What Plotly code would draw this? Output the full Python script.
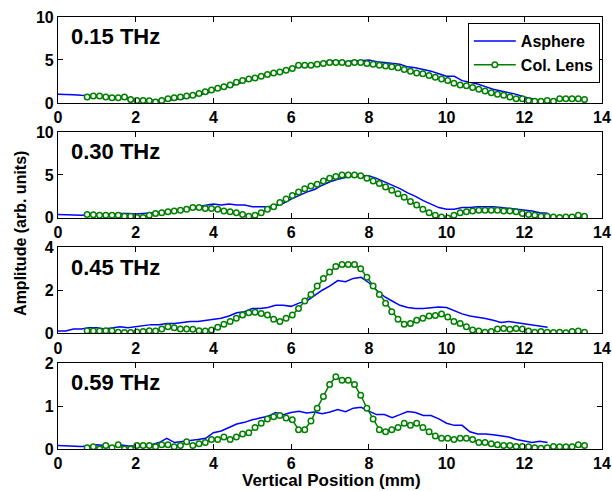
import numpy as np
import plotly.graph_objects as go

# ---- data ----
labels = ["0.15 THz", "0.30 THz", "0.45 THz", "0.59 THz"]
y_ranges = [[0, 10], [0, 10], [0, 4], [0, 2]]
y_ticks = [[0, 5, 10], [0, 5, 10], [0, 2, 4], [0, 1, 2]]
x_ticks = [0, 2, 4, 6, 8, 10, 12, 14]

# Asphere sampling positions (mm)
x_asph = np.round(np.arange(64) * 0.2, 2)
# Col. Lens sampling positions (mm)
x_lens = np.round(0.75 + np.arange(81) * 0.16, 2)

asph_015 = [1.0, 1.0, 0.95, 0.9, 0.9, 0.85, 0.8, 0.75, 0.7, 0.5,
            0.4, 0.35, 0.3, 0.3, 0.3, 0.4, 0.5, 0.7, 0.9, 1.1,
            1.4, 1.7, 1.9, 2.2, 2.5, 2.8, 3.1, 3.3, 3.6, 3.8,
            4.0, 4.2, 4.4, 4.5, 4.7, 4.9, 4.9, 4.8, 4.9, 4.9,
            5.0, 4.8, 4.7, 4.6, 4.5, 4.2, 4.1, 3.9, 3.7, 3.4,
            3.1, 3.1, 2.6, 2.4, 2.2, 1.9, 1.6, 1.4, 1.2, 1.0,
            0.7, 0.5, 0.3, 0.1]
lens_015 = [0.7, 0.8, 0.8, 0.7, 0.6, 0.6, 0.7, 0.4, 0.3, 0.3,
            0.25, 0.1, 0.3, 0.5, 0.6, 0.7, 0.8, 0.9, 1.1, 1.3,
            1.5, 1.7, 1.9, 2.1, 2.4, 2.6, 2.8, 2.9, 3.1, 3.3,
            3.5, 3.6, 3.8, 4.0, 4.4, 4.4, 4.4, 4.5, 4.6, 4.7,
            4.7, 4.7, 4.6, 4.7, 4.7, 4.6, 4.5, 4.4, 4.3, 4.2,
            4.1, 3.9, 3.7, 3.5, 3.4, 3.2, 3.0, 2.8, 2.6, 2.3,
            2.1, 2.0, 1.8, 1.6, 1.4, 1.2, 1.0, 0.9, 0.7, 0.5,
            0.5, 0.3, 0.2, 0.2, 0.3, 0.2, 0.5, 0.5, 0.5, 0.5, 0.4]

asph_030 = [0.4, 0.35, 0.3, 0.3, 0.35, 0.4, 0.45, 0.5, 0.5, 0.5,
            0.45, 0.5, 0.55, 0.6, 0.7, 0.85, 1.0, 1.2, 1.3, 1.5,
            1.6, 1.5, 1.6, 1.5, 1.5, 1.3, 1.3, 1.3, 1.4, 1.7,
            2.2, 2.6, 3.0, 3.3, 3.8, 4.2, 4.5, 4.7, 4.9, 4.9,
            4.9, 4.6, 4.2, 3.8, 3.4, 2.9, 2.5, 2.0, 1.6, 1.2,
            1.0, 1.0, 1.2, 1.2, 1.3, 1.3, 1.3, 1.2, 1.1, 1.0,
            0.9, 0.8, 0.6, 0.55]
lens_030 = [0.4, 0.35, 0.3, 0.3, 0.3, 0.3, 0.2, 0.2, 0.05, 0.05,
            0.3, 0.5, 0.6, 0.7, 0.8, 0.9, 1.0, 1.2, 1.2, 1.1,
            1.1, 1.0, 0.8, 0.7, 0.6, 0.4, 0.2, 0.3, 0.6, 1.0,
            1.3, 1.8, 2.2, 2.6, 3.0, 3.4, 3.7, 3.9, 4.3, 4.6,
            4.8, 5.0, 5.0, 5.0, 4.9, 4.6, 4.3, 4.0, 3.6, 3.2,
            2.8, 2.4, 1.9, 1.5, 1.0, 0.6, 0.3, 0.1, 0.0, 0.3,
            0.6, 0.7, 0.8, 0.9, 0.9, 0.9, 0.9, 0.8, 0.8, 0.7,
            0.5, 0.4, 0.3, 0.2, 0.2, 0.1, 0.05, 0.1, 0.1, 0.3, 0.2]

asph_045 = [0.1, 0.1, 0.2, 0.2, 0.25, 0.25, 0.2, 0.25, 0.3, 0.25,
            0.3, 0.35, 0.4, 0.4, 0.45, 0.45, 0.5, 0.55, 0.55, 0.6,
            0.65, 0.7, 0.8, 0.95, 1.0, 1.15, 1.15, 1.2, 1.3, 1.3,
            1.25, 1.4, 1.5, 1.75, 2.0, 2.2, 2.45, 2.4, 2.55, 2.6,
            2.35, 2.0, 1.7, 1.5, 1.3, 1.2, 1.15, 1.15, 1.2, 1.22,
            1.2, 1.05, 0.9, 0.8, 0.75, 0.68, 0.6, 0.5, 0.55, 0.5,
            0.42, 0.38, 0.35, 0.28]
lens_045 = [0.12, 0.1, 0.1, 0.12, 0.12, 0.05, 0.03, 0.03, 0.06, 0.08,
            0.12, 0.1, 0.2, 0.3, 0.25, 0.2, 0.2, 0.18, 0.12, 0.1,
            0.15, 0.28, 0.42, 0.55, 0.7, 0.85, 0.95, 0.98, 0.92, 0.85,
            0.65, 0.55, 0.7, 0.85, 1.15, 1.5, 1.8, 2.2, 2.55, 2.85,
            3.1, 3.2, 3.2, 3.2, 3.0, 2.6, 2.2, 1.8, 1.4, 1.0,
            0.65, 0.42, 0.45, 0.6, 0.7, 0.8, 0.82, 0.9, 0.75, 0.55,
            0.45, 0.3, 0.15, 0.1, 0.05, 0.08, 0.2, 0.22, 0.18, 0.22,
            0.2, 0.1, 0.05, 0.08, 0.05, 0.03, 0.05, 0.02, 0.08, 0.1, 0.05]

asph_059 = [0.08, 0.07, 0.06, 0.06, 0.07, 0.1, 0.08, 0.06, 0.1, 0.07,
            0.07, 0.08, 0.1, 0.15, 0.25, 0.15, 0.18, 0.2, 0.22, 0.25,
            0.38, 0.42, 0.5, 0.58, 0.62, 0.68, 0.72, 0.76, 0.85, 0.8,
            0.85, 0.88, 0.84, 0.86, 0.82, 0.86, 0.92, 0.87, 0.95, 0.97,
            0.88, 0.8, 0.8, 0.73, 0.8, 0.87, 0.85, 0.78, 0.78, 0.7,
            0.6, 0.55, 0.55, 0.4, 0.35, 0.35, 0.33, 0.3, 0.28, 0.22,
            0.18, 0.15, 0.18, 0.15]
lens_059 = [0.03, 0.05, 0.0, 0.08, 0.03, 0.1, 0.0, 0.0, 0.08, 0.08,
            0.08, 0.05, 0.1, 0.1, 0.05, 0.08, 0.17, 0.08, 0.12, 0.15,
            0.22, 0.22, 0.28, 0.22, 0.28, 0.35, 0.38, 0.5, 0.6, 0.7,
            0.75, 0.78, 0.72, 0.68, 0.45, 0.45, 0.65, 0.95, 1.22, 1.5,
            1.68, 1.6, 1.6, 1.5, 1.25, 0.95, 0.7, 0.45, 0.4, 0.45,
            0.5, 0.6, 0.55, 0.6, 0.5, 0.4, 0.3, 0.25, 0.25, 0.22,
            0.25, 0.25, 0.22, 0.15, 0.15, 0.12, 0.1, 0.08, 0.08, 0.06,
            0.06, 0.05, 0.03, 0.02, 0.03, 0.06, 0.05, 0.05, 0.05, 0.1, 0.08]

asph = [asph_015, asph_030, asph_045, asph_059]
lens = [lens_015, lens_030, lens_045, lens_059]

# ---- figure ----
FONT = "Liberation Sans, Arial, Helvetica, sans-serif"
domains = [[0.801, 1.0], [0.535, 0.734], [0.268, 0.467], [0.0, 0.199]]

fig = go.Figure()
for i in range(4):
    xa = "x" if i == 0 else f"x{i+1}"
    ya = "y" if i == 0 else f"y{i+1}"
    fig.add_trace(go.Scatter(
        x=x_asph, y=asph[i], mode="lines", name="Asphere",
        line=dict(color="#0000ff", width=1.5),
        xaxis=xa, yaxis=ya, showlegend=(i == 0), cliponaxis=True))
    fig.add_trace(go.Scatter(
        x=x_lens, y=lens[i], mode="lines+markers", name="Col. Lens",
        line=dict(color="#008000", width=1.5),
        marker=dict(symbol="circle", size=5.5, color="white",
                    line=dict(color="#008000", width=1.5)),
        xaxis=xa, yaxis=ya, showlegend=(i == 0), cliponaxis=True))

axis_common = dict(showline=True, linecolor="black", linewidth=1.2,
                   mirror="ticks", ticks="inside", ticklen=5, tickwidth=1.2,
                   tickcolor="black", showgrid=False, zeroline=False,
                   automargin=False,
                   tickfont=dict(family=FONT, size=16, color="black", weight="bold"))

layout = dict(
    width=612, height=491,
    margin=dict(l=58, r=10, t=17, b=42, autoexpand=False),
    paper_bgcolor="white", plot_bgcolor="white",
    font=dict(family=FONT, color="black"),
    legend=dict(x=0.996, y=0.986, xanchor="right", yanchor="top",
                xref="paper", yref="paper",
                bordercolor="black", borderwidth=1, bgcolor="white",
                font=dict(family=FONT, size=16, color="black", weight="bold"),
                tracegroupgap=0, itemwidth=42),
)
annotations = []
for i in range(4):
    xk = "xaxis" if i == 0 else f"xaxis{i+1}"
    yk = "yaxis" if i == 0 else f"yaxis{i+1}"
    ya = "y" if i == 0 else f"y{i+1}"
    layout[xk] = dict(axis_common, domain=[0, 1], range=[0, 14],
                      tickvals=x_ticks, anchor=ya)
    layout[yk] = dict(axis_common, domain=domains[i], range=y_ranges[i],
                      tickvals=y_ticks[i], anchor="x" if i == 0 else f"x{i+1}")
    annotations.append(dict(
        text=f"<b>{labels[i]}</b>", xref=("x" if i == 0 else f"x{i+1}") + " domain",
        yref=ya + " domain", x=0.02, y=0.77, xanchor="left", yanchor="middle",
        showarrow=False, font=dict(family=FONT, size=22, color="black")))

annotations.append(dict(text="<b>Amplitude (arb. units)</b>", xref="paper", yref="paper",
                        x=-0.07, y=0.5, textangle=-90, showarrow=False,
                        xanchor="center", yanchor="middle",
                        font=dict(family=FONT, size=16, color="black")))
annotations.append(dict(text="<b>Vertical Position (mm)</b>", xref="paper", yref="paper",
                        x=0.502, y=-0.072, showarrow=False,
                        xanchor="center", yanchor="middle",
                        font=dict(family=FONT, size=17, color="black")))
layout["annotations"] = annotations
fig.update_layout(**layout)

fig.write_html("out.html", config={"displayModeBar": False},
               post_script="document.body.style.margin='0';")
